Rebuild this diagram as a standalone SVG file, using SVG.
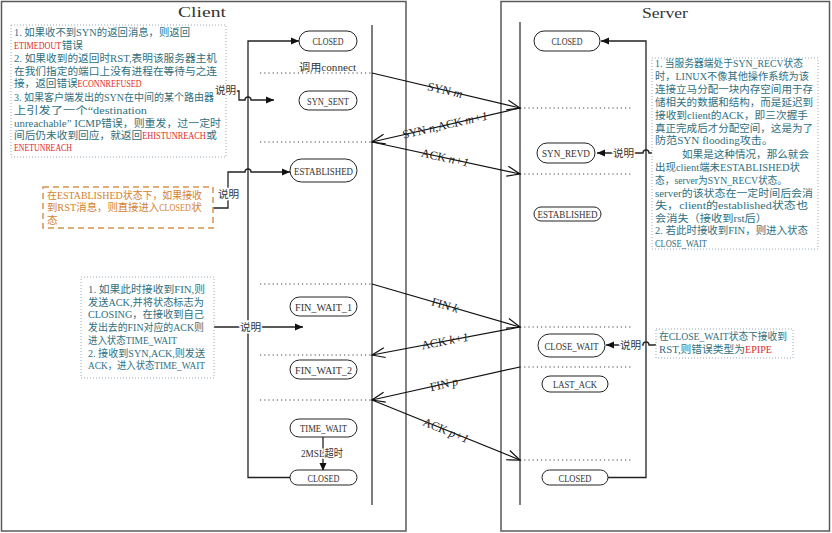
<svg xmlns="http://www.w3.org/2000/svg" width="832" height="533" viewBox="0 0 832 533">
<style>
.frame{fill:none;stroke:#5a5a5a;stroke-width:1.5}
.life{stroke:#3a3a3a;stroke-width:1.3}
.node rect{fill:#fff;stroke:#222;stroke-width:1}
.node text{font-family:"Liberation Serif","Noto Sans CJK SC",serif;font-size:11px;fill:#333;text-anchor:middle}
.dot{stroke:#444;stroke-width:1;stroke-dasharray:1.2 3}
.msg{stroke:#111;stroke-width:1.2;fill:none}
.mlab{font-family:"Liberation Serif",serif;font-size:12px;fill:#222}
.it{font-style:italic}
.conn{stroke:#222;stroke-width:1.3;fill:none}
.note{font-family:"Liberation Serif","Noto Sans CJK SC",serif;font-size:10.6px;fill:#2f6f80}
.red{fill:#e02b2b}
.dark{fill:#333}
.onote{font-family:"Liberation Serif","Noto Sans CJK SC",serif;font-size:10.6px;fill:#d4822e}
.nbox{fill:none;stroke:#98a8b8;stroke-width:1;stroke-dasharray:1 2}
.obox{fill:none;stroke:#d9924a;stroke-width:1.5;stroke-dasharray:6 4}
.lbl{font-family:"Liberation Serif","Noto Sans CJK SC",serif;font-size:10.6px;fill:#333;stroke:#fff;stroke-width:3;paint-order:stroke}
.title{font-family:"Liberation Serif",serif;font-size:15px;fill:#333}
</style>
<defs>
<marker id="open" markerUnits="userSpaceOnUse" markerWidth="16" markerHeight="12" refX="13" refY="5" orient="auto" overflow="visible">
<path d="M0,0 L13,5 L0,10" fill="none" stroke="#111" stroke-width="1.2"/>
</marker>
<marker id="fill" markerUnits="userSpaceOnUse" markerWidth="10" markerHeight="8" refX="8" refY="3.5" orient="auto" overflow="visible">
<path d="M0,0 L8,3.5 L0,7 z" fill="#111"/>
</marker>
</defs>
<rect width="832" height="533" fill="#fff"/>
<g id="frames">
<rect class="frame" x="1.5" y="1.5" width="404.5" height="529.5"/>
<rect class="frame" x="501" y="1.5" width="328.5" height="529.5"/>
<text class="title" x="178" y="17" textLength="48" lengthAdjust="spacingAndGlyphs">Client</text>
<text class="title" x="642" y="18" textLength="46" lengthAdjust="spacingAndGlyphs">Server</text>
<line class="life" x1="372" y1="25" x2="372" y2="505"/>
<line class="life" x1="520" y1="22" x2="520" y2="505"/>
</g>
<g id="dotted">
<line class="dot" x1="260" y1="73" x2="372" y2="73"/>
<line class="dot" x1="260" y1="142" x2="372" y2="142"/>
<line class="dot" x1="260" y1="284" x2="372" y2="284"/>
<line class="dot" x1="260" y1="355" x2="372" y2="355"/>
<line class="dot" x1="260" y1="400" x2="372" y2="400"/>
<line class="dot" x1="520" y1="108" x2="633" y2="108"/>
<line class="dot" x1="520" y1="174" x2="633" y2="174"/>
<line class="dot" x1="520" y1="327" x2="633" y2="327"/>
<line class="dot" x1="520" y1="367" x2="633" y2="367"/>
<line class="dot" x1="520" y1="460" x2="633" y2="460"/>
<text class="lbl" x="299" y="71" textLength="57" lengthAdjust="spacingAndGlyphs" style="stroke:none">调用connect</text>
</g>
<g id="connectors">
<path class="conn" d="M290,477.5 H248 V41 H299" marker-end="url(#fill)"/>
<path class="conn" d="M608,477.5 H646 V41 H601" marker-end="url(#fill)"/>
<path class="conn" d="M323,437 V471" marker-end="url(#fill)"/>
<path class="conn" d="M236,91 H239 V100 H245 a3,3 0 0 1 6,0 H274" marker-end="url(#fill)"/>
<path class="conn" d="M213,208 H228 V172 H245 a3,3 0 0 1 6,0 H290" marker-end="url(#fill)"/>
<path class="conn" d="M214,327 H303" marker-end="url(#fill)"/>
<path class="conn" d="M652,153 H649 a3,3 0 0 0 -6,0 H597" marker-end="url(#fill)"/>
<path class="conn" d="M656,345 H649 a3,3 0 0 0 -6,0 H606" marker-end="url(#fill)"/>
<line class="msg" x1="372" y1="73" x2="520" y2="108" marker-end="url(#open)"/>
<line class="msg" x1="520" y1="108" x2="372" y2="142" marker-end="url(#open)"/>
<line class="msg" x1="372" y1="142" x2="520" y2="174" marker-end="url(#open)"/>
<line class="msg" x1="372" y1="284" x2="520" y2="327" marker-end="url(#open)"/>
<line class="msg" x1="520" y1="327" x2="372" y2="355" marker-end="url(#open)"/>
<line class="msg" x1="520" y1="367" x2="372" y2="400" marker-end="url(#open)"/>
<line class="msg" x1="372" y1="400" x2="520" y2="460" marker-end="url(#open)"/>
<g transform="translate(445,90.3) rotate(13.3)"><text class="mlab" x="-17.9" y="4">SYN</text><text class="mlab it" x="9.1" y="4">m</text></g>
<g transform="translate(445,125.2) rotate(-12.9)"><text class="mlab" x="-43.6" y="4">SYN</text><text class="mlab it" x="-16.6" y="4">n</text><text class="mlab" x="-10.6" y="4">,ACK</text><text class="mlab it" x="20.7" y="4">m+1</text></g>
<g transform="translate(445,157.8) rotate(12.2)"><text class="mlab" x="-24.2" y="4">ACK</text><text class="mlab it" x="4.1" y="4">n+1</text></g>
<g transform="translate(445,305.2) rotate(16.2)"><text class="mlab" x="-13.8" y="4">FIN</text><text class="mlab it" x="8.5" y="4">k</text></g>
<g transform="translate(445,341.2) rotate(-10.7)"><text class="mlab" x="-23.9" y="4">ACK</text><text class="mlab it" x="4.4" y="4">k+1</text></g>
<g transform="translate(444,384.2) rotate(-12.6)"><text class="mlab" x="-14.2" y="4">FIN</text><text class="mlab it" x="8.1" y="4">p</text></g>
<g transform="translate(446,430.4) rotate(22.1)"><text class="mlab" x="-24.2" y="4">ACK</text><text class="mlab it" x="4.1" y="4">p+1</text></g>
<text class="lbl" x="215" y="94">说明</text>
<text class="lbl" x="218" y="198">说明</text>
<text class="lbl" x="240" y="331">说明</text>
<text class="lbl" x="613" y="157">说明</text>
<text class="lbl" x="620" y="349">说明</text>
<text class="lbl" x="322" y="457" text-anchor="middle" textLength="42" lengthAdjust="spacingAndGlyphs">2MSL超时</text>
</g>
<g id="c_closed1" class="node"><rect x="299" y="31" width="58" height="20" rx="10"/><text x="328" y="45" textLength="31" lengthAdjust="spacingAndGlyphs">CLOSED</text></g>
<g id="c_syn_sent" class="node"><rect x="299" y="91" width="58" height="19" rx="9.5"/><text x="328" y="104.5" textLength="42" lengthAdjust="spacingAndGlyphs">SYN_SENT</text></g>
<g id="c_established" class="node"><rect x="290" y="159" width="67" height="23" rx="11.5"/><text x="323.5" y="174.5" textLength="59" lengthAdjust="spacingAndGlyphs">ESTABLISHED</text></g>
<g id="c_fin_wait_1" class="node"><rect x="290" y="297" width="67" height="19" rx="9.5"/><text x="323.5" y="310.5" textLength="57" lengthAdjust="spacingAndGlyphs">FIN_WAIT_1</text></g>
<g id="c_fin_wait_2" class="node"><rect x="290" y="360" width="67" height="19" rx="9.5"/><text x="323.5" y="373.5" textLength="57" lengthAdjust="spacingAndGlyphs">FIN_WAIT_2</text></g>
<g id="c_time_wait" class="node"><rect x="290" y="419" width="67" height="18" rx="9"/><text x="323.5" y="432" textLength="47" lengthAdjust="spacingAndGlyphs">TIME_WAIT</text></g>
<g id="c_closed2" class="node"><rect x="290" y="470" width="67" height="15" rx="7.5"/><text x="323.5" y="481.5" textLength="32" lengthAdjust="spacingAndGlyphs">CLOSED</text></g>
<g id="s_closed1" class="node"><rect x="534" y="31" width="66" height="20" rx="10"/><text x="567" y="45" textLength="31" lengthAdjust="spacingAndGlyphs">CLOSED</text></g>
<g id="s_syn_revd" class="node"><rect x="537" y="143" width="58" height="20" rx="10"/><text x="566" y="157" textLength="48" lengthAdjust="spacingAndGlyphs">SYN_REVD</text></g>
<g id="s_established" class="node"><rect x="534" y="207" width="67" height="14" rx="7"/><text x="567.5" y="218" textLength="60" lengthAdjust="spacingAndGlyphs">ESTABLISHED</text></g>
<g id="s_close_wait" class="node"><rect x="538" y="334" width="67" height="23" rx="11.5"/><text x="571.5" y="349.5" textLength="54" lengthAdjust="spacingAndGlyphs">CLOSE_WAIT</text></g>
<g id="s_last_ack" class="node"><rect x="542" y="376" width="66" height="16" rx="8"/><text x="575" y="388" textLength="44" lengthAdjust="spacingAndGlyphs">LAST_ACK</text></g>
<g id="s_closed2" class="node"><rect x="542" y="470" width="66" height="15" rx="7.5"/><text x="575" y="481.5" textLength="33" lengthAdjust="spacingAndGlyphs">CLOSED</text></g>
<g id="note_syn">
<rect class="nbox" x="11" y="25" width="215" height="132"/>
<text class="note" x="14" y="36" textLength="176" lengthAdjust="spacingAndGlyphs">1. 如果收不到SYN的返回消息，则返回</text>
<text class="note red" transform="translate(14,49) scale(1,1.29)" style="font-size:8.1px" textLength="47.2" lengthAdjust="spacingAndGlyphs">ETIMEDOUT</text>
<text class="note" x="61.7" y="49" textLength="21.2" lengthAdjust="spacingAndGlyphs">错误</text>
<text class="note" x="14" y="62" textLength="203" lengthAdjust="spacingAndGlyphs">2. 如果收到的返回时RST,表明该服务器主机</text>
<text class="note" x="14" y="74.5" textLength="203" lengthAdjust="spacingAndGlyphs">在我们指定的端口上没有进程在等待与之连</text>
<text class="note" x="14" y="87" textLength="63.6" lengthAdjust="spacingAndGlyphs">接，返回错误</text>
<text class="note red" x="77.6" y="87" textLength="64" lengthAdjust="spacingAndGlyphs">ECONNREFUSED</text>
<text class="note" x="14" y="100.5" style="font-size:10px" textLength="200" lengthAdjust="spacingAndGlyphs">3. 如果客户端发出的SYN在中间的某个路由器</text>
<text class="note" x="14" y="114" textLength="133" lengthAdjust="spacingAndGlyphs">上引发了一个“destination</text>
<text class="note" x="14" y="126.5" textLength="207" lengthAdjust="spacingAndGlyphs">unreachable” ICMP错误，则重发，过一定时</text>
<text class="note" x="14" y="139" textLength="128.2" lengthAdjust="spacingAndGlyphs">间后仍未收到回应，就返回</text>
<text class="note red" transform="translate(142.2,139) scale(1,1.27)" style="font-size:8.3px" textLength="63.6" lengthAdjust="spacingAndGlyphs">EHISTUNREACH</text>
<text class="note" x="206.3" y="139">或</text>
<text class="note red" x="14" y="151" textLength="58" lengthAdjust="spacingAndGlyphs">ENETUNREACH</text>
</g>
<g id="note_rst">
<rect class="obox" x="43" y="187" width="170" height="41"/>
<text class="onote" x="47" y="199" textLength="155" lengthAdjust="spacingAndGlyphs">在ESTABLISHED状态下，如果接收</text>
<text class="onote" x="47" y="211" textLength="112.2" lengthAdjust="spacingAndGlyphs">到RST消息，则直接进入</text>
<text class="onote dark" transform="translate(159.2,211) scale(1,1.3)" style="font-size:8.15px" textLength="31.6" lengthAdjust="spacingAndGlyphs">CLOSED</text>
<text class="onote" x="191.3" y="211">状</text>
<text class="onote" x="47" y="224">态</text>
</g>
<g id="note_fin">
<rect class="nbox" x="81" y="277" width="133" height="101"/>
<text class="note" x="88" y="293" textLength="117" lengthAdjust="spacingAndGlyphs">1. 如果此时接收到FIN,则</text>
<text class="note" x="88" y="305.5" textLength="116" lengthAdjust="spacingAndGlyphs">发送ACK,并将状态标志为</text>
<text class="note" x="88" y="318" textLength="116" lengthAdjust="spacingAndGlyphs">CLOSING，在接收到自己</text>
<text class="note" x="88" y="331" textLength="116" lengthAdjust="spacingAndGlyphs">发出去的FIN对应的ACK则</text>
<text class="note" x="88" y="344" textLength="89" lengthAdjust="spacingAndGlyphs">进入状态TIME_WAIT</text>
<text class="note" x="88" y="357" textLength="117" lengthAdjust="spacingAndGlyphs">2. 接收到SYN,ACK,则发送</text>
<text class="note" x="88" y="369" textLength="117" lengthAdjust="spacingAndGlyphs">ACK，进入状态TIME_WAIT</text>
</g>
<g id="note_synrecv">
<rect class="nbox" x="652" y="58" width="166" height="191"/>
<text class="note" x="655" y="66.5" textLength="148" lengthAdjust="spacingAndGlyphs">1. 当服务器端处于SYN_RECV状态</text>
<text class="note" x="655" y="79.5" textLength="154" lengthAdjust="spacingAndGlyphs">时，LINUX不像其他操作系统为该</text>
<text class="note" x="655" y="92.5" textLength="158" lengthAdjust="spacingAndGlyphs">连接立马分配一块内存空间用于存</text>
<text class="note" x="655" y="105.5" textLength="158" lengthAdjust="spacingAndGlyphs">储相关的数据和结构，而是延迟到</text>
<text class="note" x="655" y="118.5" textLength="153" lengthAdjust="spacingAndGlyphs">接收到client的ACK，即三次握手</text>
<text class="note" x="655" y="131.5" textLength="158" lengthAdjust="spacingAndGlyphs">真正完成后才分配空间，这是为了</text>
<text class="note" x="655" y="144" textLength="118" lengthAdjust="spacingAndGlyphs">防范SYN flooding攻击。</text>
<text class="note" x="682" y="157.5" textLength="127" lengthAdjust="spacingAndGlyphs">如果是这种情况，那么就会</text>
<text class="note" x="655" y="170.5" textLength="145" lengthAdjust="spacingAndGlyphs">出现client端未ESTABLISHED状</text>
<text class="note" x="655" y="183.5" textLength="132" lengthAdjust="spacingAndGlyphs">态，server为SYN_RECV状态。</text>
<text class="note" x="655" y="196.5" textLength="158" lengthAdjust="spacingAndGlyphs">server的该状态在一定时间后会消</text>
<text class="note" x="655" y="209" textLength="153" lengthAdjust="spacingAndGlyphs">失，client的established状态也</text>
<text class="note" x="655" y="221.5" textLength="112" lengthAdjust="spacingAndGlyphs">会消失（接收到rst后）</text>
<text class="note" x="655" y="234" textLength="153" lengthAdjust="spacingAndGlyphs">2. 若此时接收到FIN，则进入状态</text>
<text class="note" x="655" y="246.5" textLength="52" lengthAdjust="spacingAndGlyphs">CLOSE_WAIT</text>
</g>
<g id="note_epipe">
<rect class="nbox" x="656" y="329" width="137" height="29"/>
<text class="note" x="659" y="340" textLength="128" lengthAdjust="spacingAndGlyphs">在CLOSE_WAIT状态下接收到</text>
<text class="note" x="659" y="353" textLength="86.1" lengthAdjust="spacingAndGlyphs">RST,则错误类型为</text>
<text class="note red" x="745.1" y="353" textLength="26.9" lengthAdjust="spacingAndGlyphs">EPIPE</text>
</g>
</svg>
